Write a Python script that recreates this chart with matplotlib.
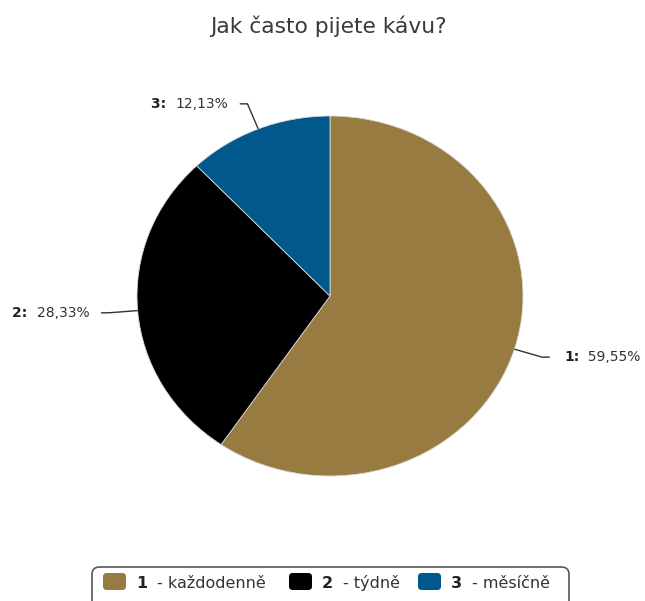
import numpy as np
import matplotlib.pyplot as plt
from matplotlib.patches import FancyBboxPatch

# survey answers
categories = ['1', '2', '3']
names = ['každodenně', 'týdně', 'měsíčně']
shares = [59.55, 28.33, 12.13]
colors = ['#977b40', '#000000', '#00588c']

W, H = 645, 601
fig = plt.figure(figsize=(W / 100, H / 100), dpi=100)

def fx(px):
    return px / W

def fy(py):
    return 1 - py / H

fig.text(fx(328), fy(26), 'Jak často pijete kávu?', ha='center', va='center',
         fontsize=15.7, color='#3a3a3a')

# pie axes, slightly wider than tall so the pie comes out elliptical
cx, cy, rx, ry = 330, 296, 193, 180
ax = fig.add_axes([fx(cx - rx), fy(cy + ry), 2 * rx / W, 2 * ry / H])

wedges, _ = ax.pie(shares, colors=colors, startangle=90, counterclock=False,
                   radius=1, center=(0, 0), frame=False,
                   wedgeprops=dict(edgecolor='#d8d8d8', linewidth=0.6))
ax.set_aspect('auto')
ax.set_xlim(-1, 1)
ax.set_ylim(-1, 1)
ax.axis('off')

# leader lines and labels
start = 90.0
for cat, val in zip(categories, shares):
    sweep = val / sum(shares) * 360
    mid = np.deg2rad(start - sweep / 2)
    start -= sweep
    ex, ey = np.cos(mid), np.sin(mid)
    bx, by = 1.15 * ex, 1.15 * ey
    side = 1 if ex > 0 else -1
    tx = bx + side * 0.04
    ax.plot([ex, bx, tx], [ey, by, by], color='#333333', lw=1,
            clip_on=False, solid_capstyle='butt')
    pct = f'{val:.2f}%'.replace('.', ',')
    if side > 0:
        t = ax.text(tx + 0.075, by, f'{cat}:', ha='left', va='center',
                    fontsize=10, fontweight='bold', color='#222222')
        ax.annotate('  ' + pct, xy=(1, 0.5), xycoords=t, ha='left', va='center',
                    fontsize=10, color='#333333')
    else:
        t = ax.text(tx - 0.06, by, pct, ha='right', va='center',
                    fontsize=10, color='#333333')
        ax.annotate(f'{cat}:  ', xy=(0, 0.5), xycoords=t, ha='right', va='center',
                    fontsize=10, fontweight='bold', color='#222222')

# legend box, running off the bottom edge
frame = FancyBboxPatch((fx(92), fy(615)), fx(569) - fx(92), fy(567) - fy(615),
                       boxstyle='round,pad=0,rounding_size=0.012',
                       transform=fig.transFigure, facecolor='white',
                       edgecolor='#555555', linewidth=1.2)
fig.patches.append(frame)

item_x = [103, 289, 418]
for x0, cat, name, col in zip(item_x, categories, names, colors):
    sw = FancyBboxPatch((fx(x0), fy(590)), fx(23), fy(573) - fy(590),
                        boxstyle='round,pad=0,rounding_size=0.006',
                        transform=fig.transFigure, facecolor=col,
                        edgecolor='none')
    fig.patches.append(sw)
    fig.text(fx(x0 + 33), fy(583), cat, ha='left', va='center',
             fontsize=11.5, fontweight='bold', color='#222222')
    fig.text(fx(x0 + 54), fy(583), '- ' + name, ha='left', va='center',
             fontsize=11.5, color='#333333')

fig.savefig('out.png', dpi=100, facecolor='white')
